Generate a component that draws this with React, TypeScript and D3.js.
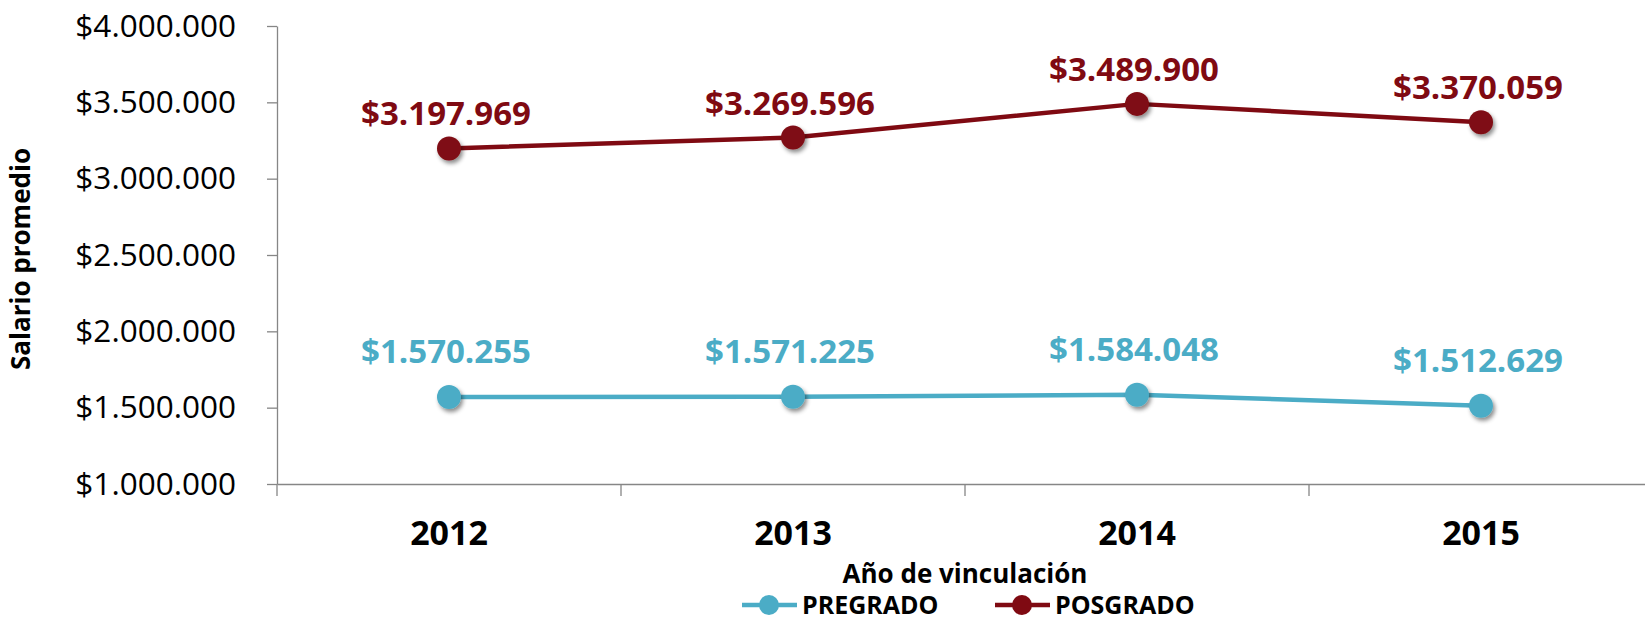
import React, { useEffect, useRef } from 'react'
import * as d3 from 'd3'

const years = ['2012', '2013', '2014', '2015']
const pregrado = [1570255, 1571225, 1584048, 1512629]
const posgrado = [3197969, 3269596, 3489900, 3370059]
const yTicks = [1000000, 1500000, 2000000, 2500000, 3000000, 3500000, 4000000]

const FONT = "'Open Sans', 'Liberation Sans', sans-serif"
const AXIS = '#868686'

const locale = d3.formatLocale({ decimal: ',', thousands: '.', grouping: [3], currency: ['$', ''] })
const money = locale.format('$,.0f')

export default function App() {
  const ref = useRef<SVGSVGElement>(null)

  useEffect(() => {
    const left = 277, right = 1653, top = 26, bottom = 484

    const svg = d3.select(ref.current)
    svg.selectAll('*').remove()

    const defs = svg.append('defs')
    const f = defs.append('filter').attr('id', 'shadow').attr('x', '-50%').attr('y', '-50%').attr('width', '200%').attr('height', '200%')
    f.append('feDropShadow').attr('dx', 2).attr('dy', 3).attr('stdDeviation', 2).attr('flood-color', '#000').attr('flood-opacity', 0.45)

    const x = d3.scaleBand().domain(years).range([left, right]).padding(0)
    const y = d3.scaleLinear().domain([1000000, 4000000]).range([bottom, top])
    const cx = (d: string) => (x(d) as number) + x.bandwidth() / 2

    // y axis
    const ya = svg.append('g')
      .attr('transform', `translate(${left},0)`)
      .call(d3.axisLeft(y).tickValues(yTicks).tickSize(10).tickSizeOuter(0).tickPadding(31).tickFormat((d: any) => money(d)))
    ya.select('.domain').attr('stroke', AXIS).attr('stroke-width', 1.3)
    ya.selectAll('.tick line').attr('stroke', AXIS).attr('stroke-width', 1.3)
    ya.selectAll('.tick text').attr('font-family', FONT).attr('font-size', 31.5).attr('fill', '#000')

    // x axis
    const xa = svg.append('g')
      .attr('transform', `translate(0,${bottom})`)
      .call(d3.axisBottom(x).tickSize(0).tickSizeOuter(0).tickPadding(37))
    xa.select('.domain').attr('stroke', AXIS).attr('stroke-width', 1.3)
    xa.selectAll('.tick text').attr('font-family', FONT).attr('font-size', 34).attr('font-weight', 'bold').attr('fill', '#000')
    const bounds = years.map(d => x(d) as number).concat([right])
    xa.selectAll('.bound')
      .data(bounds)
      .enter()
      .append('line')
      .attr('x1', d => d).attr('x2', d => d)
      .attr('y1', 0).attr('y2', 12)
      .attr('stroke', AXIS).attr('stroke-width', 1.3)

    // titles
    svg.append('text')
      .attr('transform', 'translate(30,259) rotate(-90)')
      .attr('text-anchor', 'middle')
      .attr('font-family', FONT).attr('font-size', 26).attr('font-weight', 'bold')
      .text('Salario promedio')

    svg.append('text')
      .attr('x', (left + right) / 2).attr('y', 583)
      .attr('text-anchor', 'middle')
      .attr('font-family', FONT).attr('font-size', 26).attr('font-weight', 'bold')
      .text('Año de vinculación')

    const series = [
      { name: 'PREGRADO', values: pregrado, color: '#4BACC6', off: 34 },
      { name: 'POSGRADO', values: posgrado, color: '#7F0A12', off: 23 }
    ]

    const line = d3.line<number>()
      .x((d, i) => cx(years[i]))
      .y(d => y(d))

    series.forEach(s => {
      const g = svg.append('g')
      g.append('path')
        .datum(s.values)
        .attr('d', line)
        .attr('fill', 'none')
        .attr('stroke', s.color)
        .attr('stroke-width', 4.5)
        .attr('stroke-linejoin', 'round')

      g.selectAll('circle')
        .data(s.values)
        .enter()
        .append('circle')
        .attr('cx', (d, i) => cx(years[i]))
        .attr('cy', d => y(d))
        .attr('r', 12)
        .attr('fill', s.color)
        .attr('filter', 'url(#shadow)')

      g.selectAll('text')
        .data(s.values)
        .enter()
        .append('text')
        .attr('x', (d, i) => cx(years[i]) - 3)
        .attr('y', d => y(d) - s.off)
        .attr('text-anchor', 'middle')
        .attr('font-family', FONT).attr('font-size', 33).attr('font-weight', 'bold')
        .attr('fill', s.color)
        .text(d => money(d))
    })

    // legend
    const legend = [
      { name: 'PREGRADO', color: '#4BACC6', x: 742 },
      { name: 'POSGRADO', color: '#7F0A12', x: 995 }
    ]
    legend.forEach(l => {
      const g = svg.append('g').attr('transform', `translate(${l.x},605)`)
      g.append('line').attr('x1', 0).attr('x2', 55).attr('y1', 0).attr('y2', 0)
        .attr('stroke', l.color).attr('stroke-width', 4.5)
      g.append('circle').attr('cx', 27).attr('cy', 0).attr('r', 10).attr('fill', l.color)
      g.append('text').attr('x', 60).attr('y', 9)
        .attr('font-family', FONT).attr('font-size', 25).attr('font-weight', 'bold')
        .text(l.name)
    })
  }, [])

  return (
    <svg ref={ref} width={1645} height={622}
      style={{ position: 'absolute', left: 0, top: 0, background: '#fff' }} />
  )
}
